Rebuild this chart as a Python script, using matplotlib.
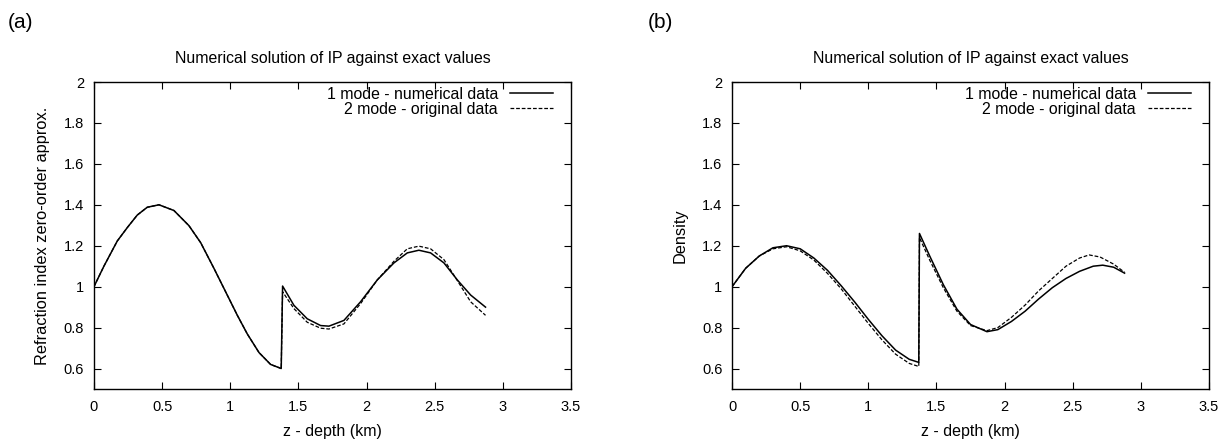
import matplotlib.pyplot as plt

plt.rcParams['font.family'] = ['Liberation Sans', 'DejaVu Sans']

# Panel (a): refraction index
za = [0, 0.073, 0.171, 0.245, 0.318, 0.391, 0.477, 0.587, 0.697, 0.783, 0.88, 0.978, 1.052, 1.125,
      1.211, 1.296, 1.374, 1.384, 1.467, 1.565, 1.663, 1.724, 1.834, 1.956, 2.079, 2.201, 2.299,
      2.384, 2.47, 2.568, 2.666, 2.764, 2.873]
na_num = [1.0, 1.10, 1.223, 1.289, 1.35, 1.388, 1.40, 1.372, 1.298, 1.215, 1.09, 0.959, 0.86, 0.769,
          0.678, 0.62, 0.60, 1.003, 0.909, 0.843, 0.81, 0.807, 0.835, 0.926, 1.033, 1.116, 1.165,
          1.178, 1.165, 1.116, 1.033, 0.959, 0.90]
za_orig = [0, 0.073, 0.171, 0.245, 0.318, 0.391, 0.477, 0.587, 0.697, 0.783, 0.88, 0.978, 1.052, 1.125,
           1.211, 1.296, 1.374, 1.384, 1.467, 1.565, 1.663, 1.724, 1.834, 1.956, 2.079, 2.201, 2.299,
           2.384, 2.47, 2.568, 2.666, 2.764, 2.873]
na_orig = [1.0, 1.10, 1.223, 1.289, 1.35, 1.388, 1.40, 1.372, 1.298, 1.215, 1.09, 0.959, 0.86, 0.769,
           0.678, 0.62, 0.60, 0.975, 0.893, 0.826, 0.797, 0.793, 0.818, 0.917, 1.033, 1.124, 1.185,
           1.198, 1.185, 1.132, 1.03, 0.926, 0.86]

# Panel (b): density
zb = [0, 0.1, 0.2, 0.3, 0.4, 0.5, 0.6, 0.7, 0.8, 0.9, 1.0, 1.1, 1.2, 1.3, 1.37,
      1.375, 1.45, 1.55, 1.65, 1.75, 1.87, 1.95, 2.05, 2.15, 2.25, 2.35, 2.45, 2.55, 2.65, 2.72, 2.8, 2.88]
rb_num = [1.0, 1.09, 1.15, 1.19, 1.20, 1.185, 1.14, 1.08, 1.005, 0.925, 0.84, 0.76, 0.69, 0.645, 0.63,
          1.26, 1.15, 1.01, 0.89, 0.815, 0.78, 0.79, 0.83, 0.88, 0.94, 0.995, 1.04, 1.075, 1.10, 1.105, 1.095, 1.066]
zb_orig = [0, 0.1, 0.2, 0.3, 0.4, 0.5, 0.6, 0.7, 0.8, 0.9, 1.0, 1.1, 1.2, 1.3, 1.37,
           1.375, 1.45, 1.55, 1.65, 1.75, 1.87, 1.95, 2.05, 2.15, 2.25, 2.35, 2.45, 2.55, 2.62, 2.7, 2.8, 2.88]
rb_orig = [1.0, 1.09, 1.15, 1.185, 1.195, 1.175, 1.13, 1.065, 0.99, 0.905, 0.82, 0.74, 0.67, 0.625, 0.61,
           1.24, 1.13, 0.995, 0.88, 0.81, 0.785, 0.80, 0.85, 0.91, 0.98, 1.04, 1.10, 1.14, 1.155, 1.145, 1.11, 1.07]

xticks = [0, 0.5, 1, 1.5, 2, 2.5, 3, 3.5]
yticks = [0.6, 0.8, 1, 1.2, 1.4, 1.6, 1.8, 2]
title = "Numerical solution of IP against exact values"
xlabel = "z - depth (km)"

fig = plt.figure(figsize=(12.25, 4.44), dpi=100)
panels = [
    ([0.0767, 0.1239, 0.3894, 0.6914], za, na_num, za_orig, na_orig,
     "Refraction index zero-order approx.", "(a)", 8 / 1225),
    ([0.5976, 0.1239, 0.3894, 0.6914], zb, rb_num, zb_orig, rb_orig,
     "Density", "(b)", 648 / 1225),
]

for rect, x1, y1, x2, y2, ylabel, tag, tagx in panels:
    ax = fig.add_axes(rect)
    ax.plot(x1, y1, color='black', lw=1.1, label="1 mode - numerical data")
    ax.plot(x2, y2, color='black', lw=0.9, dashes=(3, 1.5), label="2 mode - original data")
    ax.set_xlim(0, 3.5)
    ax.set_ylim(0.5, 2)
    ax.set_xticks(xticks)
    ax.set_xticklabels([f"{t:g}" for t in xticks])
    ax.set_yticks(yticks)
    ax.set_yticklabels([f"{t:g}" for t in yticks])
    ax.tick_params(direction='in', length=5, width=0.8, top=True, right=True,
                   labelsize=10.5)
    ax.tick_params(axis='x', pad=8)
    ax.tick_params(axis='y', pad=7)
    for sp in ax.spines.values():
        sp.set_linewidth(1.0)
    ax.set_title(title, fontsize=11.4, pad=14)
    ax.set_xlabel(xlabel, fontsize=11.5, labelpad=7)
    ax.set_ylabel(ylabel, fontsize=11.8, labelpad=10)
    ax.legend(loc='upper right', bbox_to_anchor=(0.9614, 0.985), frameon=False,
              markerfirst=False, fontsize=11.4, handlelength=2.7, handletextpad=0.75,
              labelspacing=0.0, borderaxespad=0, borderpad=0)
    fig.text(tagx, 1 - 22 / 444, tag, fontsize=15, va='center')

fig.savefig("out.png", dpi=100)
